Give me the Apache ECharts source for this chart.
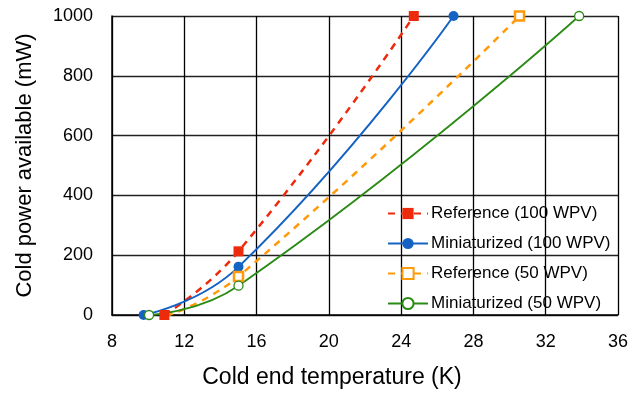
<!DOCTYPE html>
<html><head><meta charset="utf-8">
<script src="https://cdn.jsdelivr.net/npm/echarts@6/dist/echarts.min.js"></script>
<style>html,body{margin:0;padding:0;background:#fff}#c{width:631px;height:394px}</style>
</head><body><div id="c"></div>
<script>
const seriesNames = ['Reference (100 WPV)', 'Miniaturized (100 WPV)', 'Reference (50 WPV)', 'Miniaturized (50 WPV)'];
const refX100 = [10.9, 15.0, 24.7];
const refY100 = [0, 213, 1000];
const minX100 = [9.75, 15.0, 26.9];
const minY100 = [0, 161, 1000];
const refX50 = [11.0, 15.0, 30.55];
const refY50 = [-3, 129, 1000];
const minX50 = [10.05, 15.0, 33.85];
const minY50 = [0, 98, 1000];
const xTicks = [8, 12, 16, 20, 24, 28, 32, 36];
const yTicks = [0, 200, 400, 600, 800, 1000];

const pair = (xs, ys) => xs.map((x, i) => [x, ys[i]]);
const colors = ['#EE2A0C', '#1462C4', '#FF9A0A', '#2A8A14'];
const font = 'Liberation Sans, Arial, sans-serif';

const chart = echarts.init(document.getElementById('c'), null, {renderer: 'canvas'});
chart.setOption({
  animation: false,
  grid: {left: 112, right: 11, top: 16, bottom: 76, containLabel: false},
  xAxis: {
    type: 'value', min: xTicks[0], max: xTicks[xTicks.length - 1], interval: 4,
    name: 'Cold end temperature (K)', nameLocation: 'middle', nameGap: 51,
    nameTextStyle: {fontFamily: font, fontSize: 23, color: '#000', padding: [0, 66, 0, 0]},
    axisLine: {show: true, lineStyle: {color: '#000', width: 1.5}},
    axisTick: {show: false},
    axisLabel: {fontFamily: font, fontSize: 18, color: '#000', margin: 18},
    splitLine: {show: true, lineStyle: {color: '#000', width: 1.3}}
  },
  yAxis: {
    type: 'value', min: yTicks[0], max: yTicks[yTicks.length - 1], interval: 200,
    name: 'Cold power available (mW)', nameLocation: 'middle', nameGap: 76,
    nameTextStyle: {fontFamily: font, fontSize: 22, color: '#000'},
    axisLine: {show: true, lineStyle: {color: '#000', width: 1.5}},
    axisTick: {show: false},
    axisLabel: {fontFamily: font, fontSize: 18, color: '#000', margin: 19,
                formatter: v => String(v)},
    splitLine: {show: true, lineStyle: {color: '#222', width: 1.3}}
  },
  legend: {
    orient: 'vertical', left: 387, top: 205, itemGap: 13,
    itemWidth: 40, itemHeight: 14, padding: 0,
    textStyle: {fontFamily: font, fontSize: 17, color: '#000', padding: [0, 0, 0, -2]},
    data: seriesNames
  },
  series: [
    {name: seriesNames[0], type: 'line', data: pair(refX100, refY100), smooth: 0.5,
     symbol: 'rect', symbolSize: 10, color: colors[0],
     lineStyle: {color: colors[0], width: 2.5, type: [7, 6]},
     itemStyle: {color: colors[0]}},
    {name: seriesNames[1], type: 'line', data: pair(minX100, minY100), smooth: 0.5,
     symbol: 'circle', symbolSize: 10, color: colors[1],
     lineStyle: {color: colors[1], width: 2},
     itemStyle: {color: colors[1]}},
    {name: seriesNames[2], type: 'line', data: pair(refX50, refY50), smooth: 0.5,
     symbol: 'rect', symbolSize: 9, color: colors[2],
     lineStyle: {color: colors[2], width: 2.5, type: [7, 6]},
     itemStyle: {color: '#fff', borderColor: colors[2], borderWidth: 2.5}},
    {name: seriesNames[3], type: 'line', data: pair(minX50, minY50), smooth: 0.5,
     symbol: 'circle', symbolSize: 9, color: colors[3],
     lineStyle: {color: colors[3], width: 1.8},
     itemStyle: {color: '#fff', borderColor: colors[3], borderWidth: 1.3}}
  ]
});
</script></body></html>
